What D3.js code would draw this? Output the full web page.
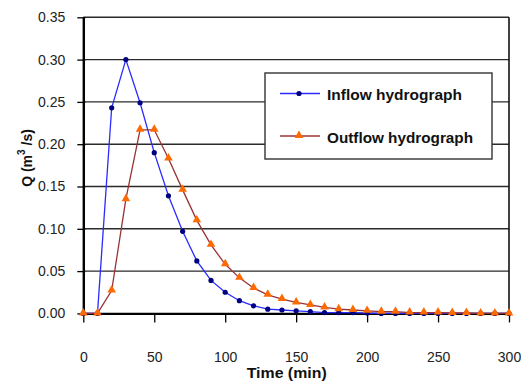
<!DOCTYPE html>
<html>
<head>
<meta charset="utf-8">
<script src="https://cdn.jsdelivr.net/npm/d3@7"></script>
<style>
  body { margin: 0; background: #fff; }
  svg { display: block; font-family: "Liberation Sans", Arial, sans-serif; }
</style>
</head>
<body>
<div id="chart"></div>
<script>
// time in minutes
var times = [0, 10, 20, 30, 40, 50, 60, 70, 80, 90, 100, 110, 120, 130, 140, 150,
             160, 170, 180, 190, 200, 210, 220, 230, 240, 250, 260, 270, 280, 290, 300];
// Q (m3/s)
var inflow = [0, 0, 0.243, 0.300, 0.249, 0.190, 0.139, 0.097, 0.062, 0.039, 0.025, 0.015,
              0.009, 0.005, 0.004, 0.003, 0.002, 0.001, 0.001, 0.001, 0.0005,
              0, 0, 0, 0, 0, 0, 0, 0, 0, 0];
var outflow = [0, 0, 0.027, 0.135, 0.217, 0.217, 0.183, 0.146, 0.110, 0.081, 0.058, 0.042,
               0.030, 0.022, 0.017, 0.013, 0.010, 0.007, 0.005, 0.004, 0.003,
               0.002, 0.002, 0.001, 0.001, 0.001, 0.0005, 0.0005, 0, 0, 0];
var xTicks = [0, 50, 100, 150, 200, 250, 300];
var yTicks = [0, 0.05, 0.10, 0.15, 0.20, 0.25, 0.30, 0.35];
var seriesNames = ["Inflow hydrograph", "Outflow hydrograph"];

var width = 521,
    height = 385;
var margin = {top: 17.3, right: 12, bottom: 71.6, left: 83.3};

var svg = d3.select("#chart").append("svg")
    .attr("width", width)
    .attr("height", height);

var x = d3.scaleLinear().domain([0, 300]).range([margin.left, width - margin.right]);
var y = d3.scaleLinear().domain([0, 0.35]).range([height - margin.bottom, margin.top]);

// gridlines
svg.append("g")
    .selectAll("line")
    .data(yTicks.slice(1))
    .enter().append("line")
    .attr("x1", x(0)).attr("x2", x(300))
    .attr("y1", function(d) { return y(d); })
    .attr("y2", function(d) { return y(d); })
    .attr("stroke", "#2a2a2a")
    .attr("stroke-width", 1.4);

// right frame
svg.append("line")
    .attr("x1", x(300)).attr("x2", x(300))
    .attr("y1", y(0.35)).attr("y2", y(0))
    .attr("stroke", "#111")
    .attr("stroke-width", 1.6);

// x axis
var xAxis = svg.append("g")
    .attr("transform", "translate(0," + y(0) + ")")
    .call(d3.axisBottom(x).tickValues(xTicks).tickSize(9).tickPadding(0).tickSizeOuter(0));
xAxis.select(".domain").attr("stroke", "#000").attr("stroke-width", 2.2);
xAxis.selectAll(".tick line").attr("stroke", "#000").attr("stroke-width", 1.3);
xAxis.selectAll(".tick text")
    .attr("y", 49).attr("dy", 0)
    .attr("fill", "#222")
    .style("font-size", "14px");

// y axis
var yAxis = svg.append("g")
    .attr("transform", "translate(" + x(0) + ",0)")
    .call(d3.axisLeft(y).tickValues(yTicks).tickFormat(d3.format(".2f")).tickSize(6).tickSizeOuter(0));
yAxis.select(".domain").attr("stroke", "#000").attr("stroke-width", 2.4);
yAxis.selectAll(".tick line").attr("stroke", "#000").attr("stroke-width", 1.3).attr("x1", 2);
yAxis.selectAll(".tick text")
    .attr("x", -18)
    .attr("fill", "#222")
    .style("font-size", "14px");

// axis titles
svg.append("text")
    .attr("x", 286.7).attr("y", 378.3)
    .attr("text-anchor", "middle")
    .attr("textLength", 80)
    .attr("lengthAdjust", "spacingAndGlyphs")
    .style("font-size", "14px").style("font-weight", "bold")
    .attr("fill", "#111")
    .text("Time (min)");

var yTitle = svg.append("text")
    .attr("transform", "translate(32,158) rotate(-90)")
    .attr("text-anchor", "middle")
    .style("font-size", "14px").style("font-weight", "bold")
    .attr("fill", "#111");
yTitle.append("tspan").text("Q (m");
yTitle.append("tspan").attr("dy", -7).style("font-size", "10px").text("3");
yTitle.append("tspan").attr("dy", 7).text(" /s)");

// series
var data = times.map(function(t, i) { return {t: t, inflow: inflow[i], outflow: outflow[i]}; });

var lineIn = d3.line().x(function(d) { return x(d.t); }).y(function(d) { return y(d.inflow); });
var lineOut = d3.line().x(function(d) { return x(d.t); }).y(function(d) { return y(d.outflow); });

svg.append("path")
    .datum(data)
    .attr("d", lineIn)
    .attr("fill", "none")
    .attr("stroke", "#2b2bff")
    .attr("stroke-width", 1.3);

svg.append("g").selectAll("circle")
    .data(data)
    .enter().append("circle")
    .attr("cx", function(d) { return x(d.t); })
    .attr("cy", function(d) { return y(d.inflow); })
    .attr("r", 2.6)
    .attr("fill", "#000080");

svg.append("path")
    .datum(data)
    .attr("d", lineOut)
    .attr("fill", "none")
    .attr("stroke", "#993333")
    .attr("stroke-width", 1.3);

var tri = d3.symbol().type(d3.symbolTriangle).size(32);
svg.append("g").selectAll("path")
    .data(data)
    .enter().append("path")
    .attr("d", tri)
    .attr("transform", function(d) { return "translate(" + x(d.t) + "," + (y(d.outflow) - 0.5) + ")"; })
    .attr("fill", "#ff6a00");

// legend
var legend = svg.append("g");
legend.append("rect")
    .attr("x", 265).attr("y", 73)
    .attr("width", 227).attr("height", 86)
    .attr("fill", "#fff")
    .attr("stroke", "#333")
    .attr("stroke-width", 1.4);

var legendY = [93.5, 136];
var legendLen = [135, 146];
var legendColor = ["#2b2bff", "#993333"];

seriesNames.forEach(function(name, i) {
    legend.append("line")
        .attr("x1", 280).attr("x2", 320)
        .attr("y1", legendY[i]).attr("y2", legendY[i])
        .attr("stroke", legendColor[i])
        .attr("stroke-width", 1.3);
    if (i == 0) {
        legend.append("circle")
            .attr("cx", 299).attr("cy", legendY[i]).attr("r", 2.6)
            .attr("fill", "#000080");
    } else {
        legend.append("path")
            .attr("d", tri)
            .attr("transform", "translate(299," + (legendY[i] - 0.5) + ")")
            .attr("fill", "#ff6a00");
    }
    legend.append("text")
        .attr("x", 327).attr("y", legendY[i] + 6.5)
        .attr("textLength", legendLen[i])
        .attr("lengthAdjust", "spacingAndGlyphs")
        .style("font-size", "14px").style("font-weight", "bold")
        .attr("fill", "#111")
        .text(name);
});
</script>
</body>
</html>
